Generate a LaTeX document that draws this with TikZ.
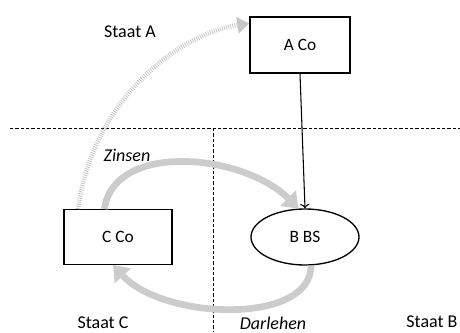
\documentclass[tikz,border=0pt]{standalone}
\usepackage{fontspec}
\setmainfont{Carlito}
\usetikzlibrary{arrows.meta,shapes.geometric}
\begin{document}
\begin{tikzpicture}[x=0.75pt,y=-0.75pt,
    firm/.style={draw,line width=1pt,inner sep=0pt,font=\fontsize{13}{15}\selectfont},
    grenze/.style={line width=0.6pt,dash pattern=on 2.5pt off 1.5pt},
    fluss/.style={draw=gray!40,line width=5pt,-{Triangle[length=11pt,width=16pt]}},
    beteiligung/.style={draw=gray!45,line width=3.5pt,dash pattern=on 0.6pt off 1pt,-{Triangle[length=9pt,width=12pt]}},
    staat/.style={font=\fontsize{13.5}{15}\selectfont}]
        \useasboundingbox (0,0) rectangle (460,332);

        \node[staat] (staatA) at (130,32) {Staat A};
        \node[staat] (staatC) at (103,323) {Staat C};
        \node[staat] (staatB) at (432,322) {Staat B};
        \node[staat,font=\fontsize{13.5}{15}\selectfont\itshape] (zinsen) at (127,155) {Zinsen};
        \node[staat,font=\fontsize{13.5}{15}\selectfont\itshape] (darlehen) at (273,323) {Darlehen};

        \coordinate (hl) at (10,128);
        \coordinate (hr) at (460,128);
        \coordinate (vo) at (213,128);
        \coordinate (vu) at (213,332);
        \draw[grenze] (hl) -- (hr);
        \draw[grenze] (vo) -- (vu);

        \node[firm,minimum width=75pt,minimum height=42pt] (aco) at (300,45) {A Co};
        \node[firm,minimum width=81pt,minimum height=41pt] (cco) at (118,237) {C Co};
        \node[firm,ellipse,minimum width=81pt,minimum height=42pt] (bbs) at (305,237) {B BS};

        \draw[fluss] (cco.116) .. controls +(10,-68) and +(-55,-55) .. (bbs.103);
        \draw[fluss] (bbs.-78) .. controls +(0,60) and +(50,55) .. (cco.-100);
        \draw[beteiligung] (cco.145) .. controls +(15,-110) and +(-70,10) .. (aco.157);

        \draw[->,line width=0.8pt] (aco.south) -- (bbs.north);

    \end{tikzpicture}
\end{document}
